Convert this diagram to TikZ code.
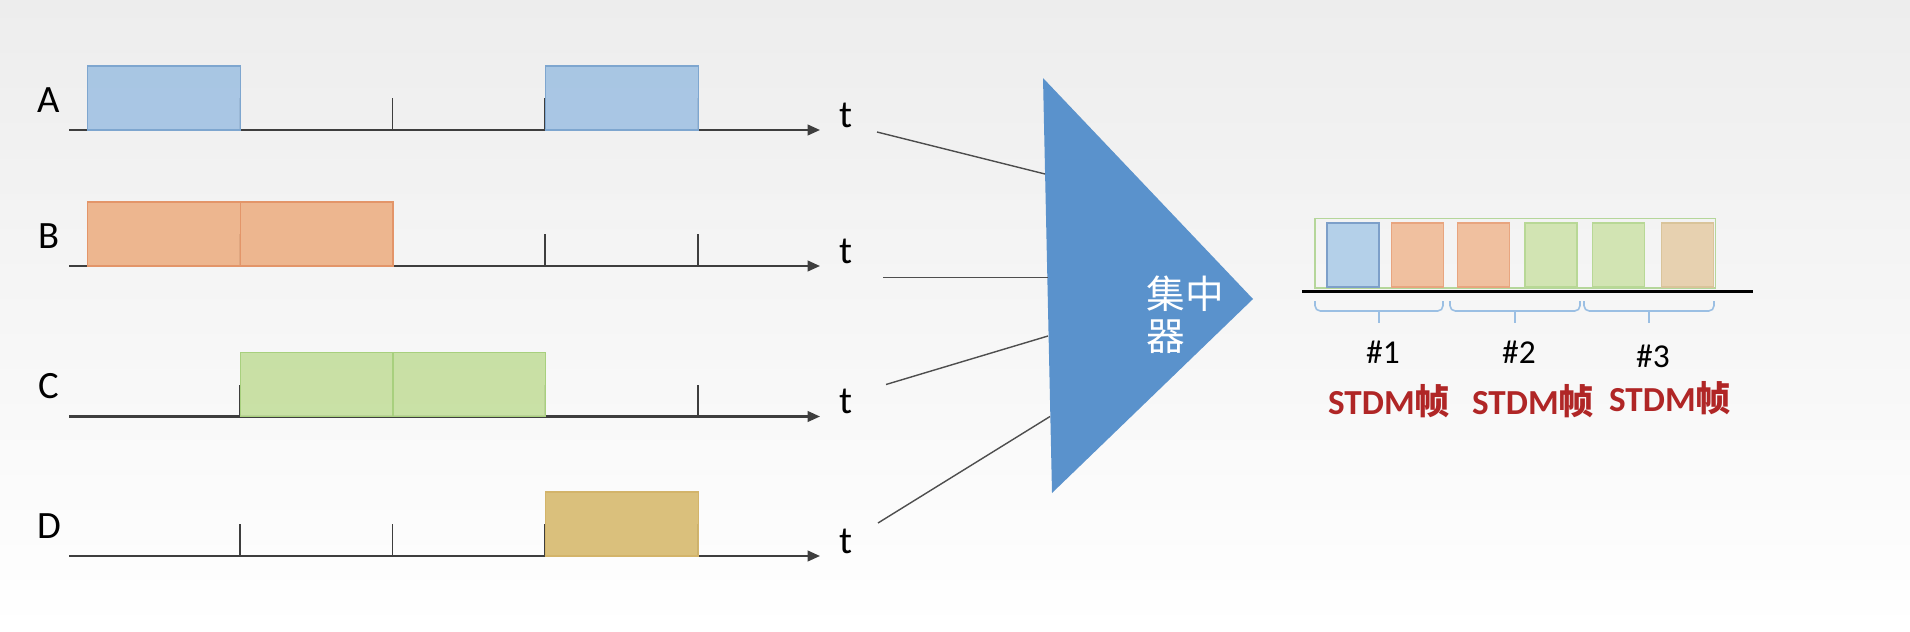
\documentclass[tikz,border=0pt]{standalone}
\usepackage{fontspec}
\setmainfont{Carlito}
\newfontfamily\cjk{Noto Sans CJK SC}
\usetikzlibrary{arrows.meta}

\definecolor{bgtop}{HTML}{EDEDED}
\definecolor{axisgray}{HTML}{3E3E3E}
\definecolor{wiregray}{HTML}{4E4E4E}
\definecolor{muxblue}{HTML}{5A92CC}
\definecolor{fillA}{HTML}{A3C3E3}\definecolor{edgeA}{HTML}{7EA6CF}
\definecolor{fillB}{HTML}{EDB187}\definecolor{edgeB}{HTML}{E39569}
\definecolor{fillC}{HTML}{C5DF9F}\definecolor{edgeC}{HTML}{A8D07E}
\definecolor{fillD}{HTML}{D8BB72}\definecolor{edgeD}{HTML}{D3B46A}
\definecolor{slotA}{HTML}{B4D0E9}\definecolor{sedgeA}{HTML}{7D9FC9}
\definecolor{slotB}{HTML}{F0C09F}\definecolor{sedgeB}{HTML}{E8A57F}
\definecolor{slotC}{HTML}{D2E4B3}\definecolor{sedgeC}{HTML}{B8D896}
\definecolor{slotD}{HTML}{E7D1B0}\definecolor{sedgeD}{HTML}{D9C49A}
\definecolor{framegreen}{HTML}{B5D69A}
\definecolor{bracebl}{HTML}{9BBFE3}
\definecolor{stdmred}{HTML}{B02626}

\begin{document}
\begin{tikzpicture}[x = 0.02cm, y = -0.02cm,
    axis/.style = {draw=axisgray, line width=1.2pt, -{Triangle[length=7pt, width=6pt]}},
    tickmark/.style = {draw=axisgray, line width=0.6pt},
    wire/.style = {draw=wiregray, line width=0.8pt},
    sig/.style = {font=\fontsize{22}{26}\selectfont, inner sep=0pt},
    pulse/.style = {fill=fill#1, draw=edge#1, fill opacity=0.92, line width=0.8pt},
    slot/.style = {fill=slot#1, draw=sedge#1, line width=0.8pt},
    bracket/.style = {draw=bracebl, line width=0.9pt, rounded corners=3pt},
    numlbl/.style = {font=\fontsize{19}{22}\selectfont, inner sep=0pt},
    framelbl/.style = {font=\fontsize{20}{24}\selectfont\bfseries, text=stdmred, inner sep=0pt}]

        \fill[top color=bgtop, bottom color=white] (0,0) rectangle (1910,632);
        \useasboundingbox (0,0) rectangle (1910,632);

        % time axes of the four sources
        \foreach \n/\y in {A/130, B/266, C/416.5, D/556} {
          \node[sig] (lab\n) at (49, \y - 30) {\n};
          \node[sig] (t\n) at (846, \y - 15) {t};
          \foreach \x in {240, 392.5, 545, 698} {
            \draw[tickmark] (\x, \y) -- (\x, \y - 32);
          }
          \draw[axis] (69, \y) -- (820, \y);
        }

        % slots that carry data
        \foreach \y/\s/\c in {130/0/A, 130/3/A, 266/0/B, 266/1/B,
                              416.5/1/C, 416.5/2/C, 556/3/D} {
          \draw[pulse=\c] ({87.5 + 152.7 * \s}, \y) rectangle ++(152.7, -64);
        }

        % concentrator
        \coordinate (muxtop) at (1043, 78);
        \coordinate (muxtip) at (1253, 299);
        \coordinate (muxbot) at (1052, 493);
        \fill[muxblue] (muxtop) -- (muxtip) -- (muxbot) -- cycle;
        \node[font=\fontsize{22}{24}\selectfont\cjk, text=white, align=left, inner sep=0pt]
          (mux) at (1185, 315) {集中\\器};

        \coordinate (sA) at (877, 132);   \coordinate (inA) at (1045, 174);
        \coordinate (sB) at (883, 277.5); \coordinate (inB) at (1048, 277.5);
        \coordinate (sC) at (886, 384.5); \coordinate (inC) at (1048, 336);
        \coordinate (sD) at (878, 523);   \coordinate (inD) at (1050, 416.5);
        \foreach \n in {A, B, C, D} {
          \draw[wire] (s\n) -- (in\n);
        }

        % STDM frames on the output line
        \draw[framegreen, line width=0.8pt] (1315, 218.5) rectangle (1715.5, 288);
        \foreach \x/\c in {1327/A, 1391.5/B, 1457.5/B, 1525/C, 1592.5/C, 1661.5/D} {
          \draw[slot=\c] (\x, 223) rectangle ++(52, 64);
        }
        \draw[line width=1.9pt] (1302, 291.5) -- (1753, 291.5);

        \foreach \k/\a/\m/\b/\hy/\sx/\sy in {1/1315/1379/1443/352/1389/401,
                                             2/1450/1515/1580/352/1533/401,
                                             3/1584/1649/1714/356/1670/398} {
          \draw[bracket] (\a, 301) -- (\a, 311) -- (\b, 311) -- (\b, 301);
          \draw[bracket] (\m, 311) -- (\m, 323);
          \node[numlbl] (num\k) at (\m + 4, \hy) {\#\k};
          \node[framelbl] (stdm\k) at (\sx, \sy) {STDM{\cjk 帧}};
        }

      \end{tikzpicture}
\end{document}
